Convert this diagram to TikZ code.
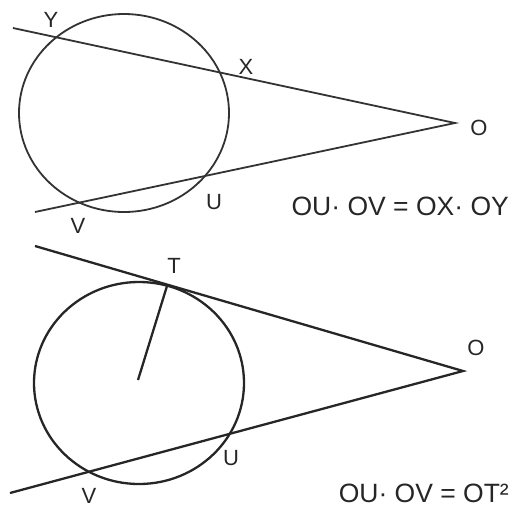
\documentclass[tikz,border=0pt]{standalone}
\usepackage{fontspec}
\setmainfont{Liberation Sans}
\begin{document}
\begin{tikzpicture}[x=1pt,y=-1pt,
  thinline/.style={draw=black!80,line width=1.8pt},
  thickline/.style={draw=black!85,line width=2.3pt},
  lbl/.style={font=\fontsize{22}{22}\selectfont,text=black!85,inner sep=0pt},
  eqn/.style={font=\fontsize{26.5}{26.5}\selectfont,text=black!85,inner sep=0pt,anchor=base east}]
\useasboundingbox (0,0) rectangle (509,507);
% ---- top figure ----
\coordinate (C1) at (124,113);
\coordinate (O1) at (455,123);
\coordinate (A1) at (13,28);
\coordinate (B1) at (35,212);
\draw[thinline] (C1) ellipse [x radius=105, y radius=99];
\draw[thinline] (A1) -- (O1) -- (B1);
\node[lbl] (Y) at (51,20) {Y};
\node[lbl] (X) at (246,67) {X};
\node[lbl] (O) at (479,128) {O};
\node[lbl] (U) at (214,202) {U};
\node[lbl] (V) at (78,226) {V};
\node[eqn] (eq1) at (509,215) {OU· OV = OX· OY};
% ---- bottom figure ----
\coordinate (C2) at (139,383);
\coordinate (O2) at (463,371);
\coordinate (A2) at (35,246);
\coordinate (B2) at (10,493);
\coordinate (T2) at (167,286);
\coordinate (R2) at (138,380);
\draw[thickline] (C2) ellipse [x radius=105, y radius=101];
\draw[thickline] (A2) -- (O2) -- (B2);
\draw[thickline] (R2) -- (T2);
\node[lbl] (T) at (174,266) {T};
\node[lbl] (Ob) at (476,348) {O};
\node[lbl] (Ub) at (231,458) {U};
\node[lbl] (Vb) at (89,496) {V};
\node[eqn] (eq2) at (509,502) {OU· OV = OT²};
\end{tikzpicture}
\end{document}
